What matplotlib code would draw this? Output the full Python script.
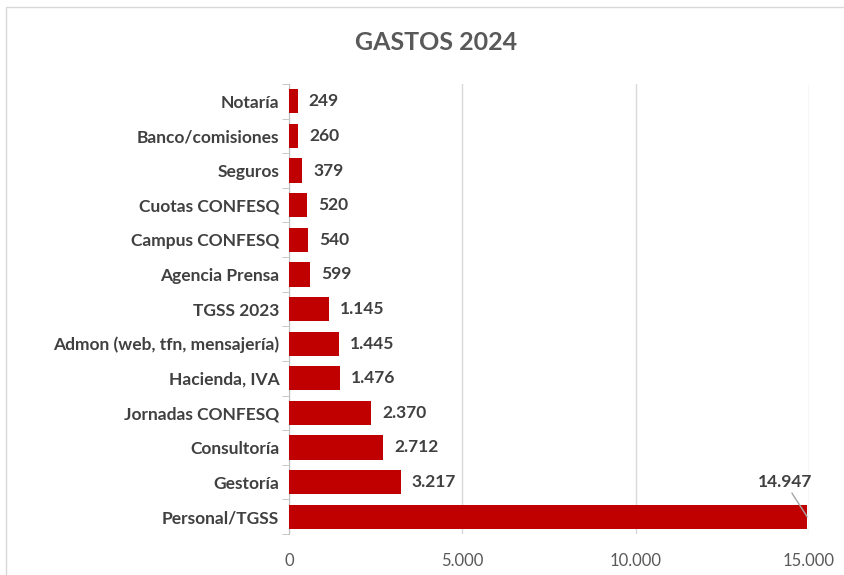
import matplotlib
matplotlib.use("Agg")
import matplotlib.pyplot as plt
from matplotlib.patches import Rectangle

categories = ["Notaría", "Banco/comisiones", "Seguros", "Cuotas CONFESQ", "Campus CONFESQ",
              "Agencia Prensa", "TGSS 2023", "Admon (web, tfn, mensajería)", "Hacienda, IVA",
              "Jornadas CONFESQ", "Consultoría", "Gestoría", "Personal/TGSS"]
values = [249, 260, 379, 520, 540, 599, 1145, 1445, 1476, 2370, 2712, 3217, 14947]
xticks = [0, 5000, 10000, 15000]
xtick_labels = ["0", "5.000", "10.000", "15.000"]
title = "GASTOS 2024"

def fmt(v):
    return f"{v:,}".replace(",", ".")

plt.rcParams['font.family'] = ['Lato', 'DejaVu Sans']

fig = plt.figure(figsize=(8.45, 5.75), dpi=100)
ax = fig.add_axes([289/845, 1-534/575, (809-289)/845, (534-84)/575])

pos = list(range(len(categories)))
ax.barh(pos, values, height=0.7, color="#c00000", zorder=3)
ax.set_ylim(len(categories)-0.5, -0.5)
ax.set_xlim(0, 15000)
ax.set_xticks(xticks)
ax.set_xticklabels(xtick_labels, fontsize=12, color="#595959")
ax.set_yticks(pos)
ax.set_yticklabels(categories, fontsize=12.5, fontweight="bold", color="#404040")
ax.set_yticks([p + 0.5 for p in pos[:-1]] + [-0.5, len(categories)-0.5], minor=True)
ax.tick_params(axis="y", which="major", length=0, pad=7)
ax.tick_params(axis="y", which="minor", length=5, color="#bfbfbf")
ax.tick_params(axis="x", length=0, pad=14)
ax.grid(axis="x", color="#d9d9d9", linewidth=1, zorder=0)
for s in ["top", "right", "bottom"]:
    ax.spines[s].set_visible(False)
ax.spines["left"].set_color("#bfbfbf")

for p, v in zip(pos[:-1], values[:-1]):
    ax.annotate(fmt(v), (v, p), xytext=(8, 0), textcoords="offset points",
                va="center", ha="left", fontsize=12.5, fontweight="bold", color="#404040")

p, v = pos[-1], values[-1]
ax.annotate(fmt(v), (v, p), xytext=(-16, 19), textcoords="offset points",
            va="bottom", ha="center", fontsize=12.5, fontweight="bold", color="#404040",
            arrowprops=dict(arrowstyle="-", color="#a6a6a6", lw=1, shrinkA=0, shrinkB=0))

fig.text(0.516, 1-43/575, title, ha="center", va="center", fontsize=18, fontweight="bold", color="#595959")

fig.patches.append(Rectangle((6/845, -0.05), 1.2, 1-7/575+0.05, transform=fig.transFigure,
                             fill=False, edgecolor="#d9d9d9", linewidth=1))

fig.savefig("out.png", dpi=100)
